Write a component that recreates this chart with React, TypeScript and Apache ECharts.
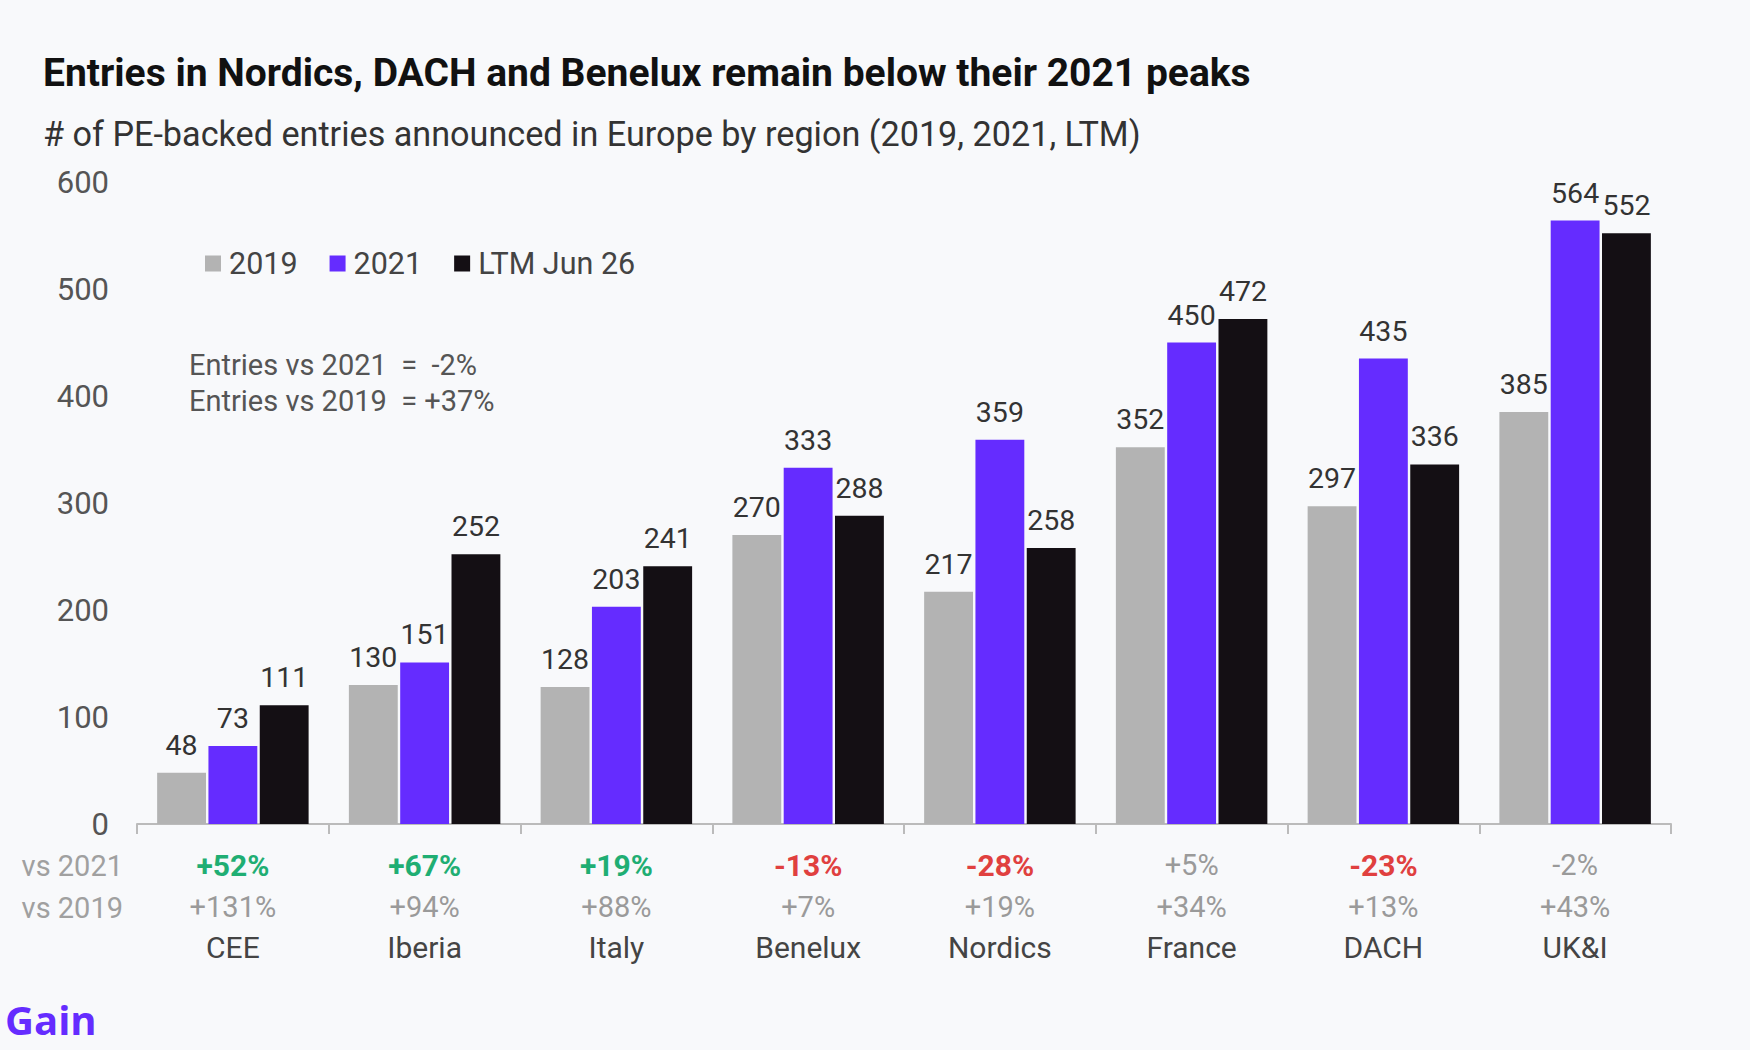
import React, { useEffect, useRef } from "react";
import * as echarts from "echarts";

const categories = ["CEE", "Iberia", "Italy", "Benelux", "Nordics", "France", "DACH", "UK&I"];
const values2019 = [48, 130, 128, 270, 217, 352, 297, 385];
const values2021 = [73, 151, 203, 333, 359, 450, 435, 564];
const valuesLTM = [111, 252, 241, 288, 258, 472, 336, 552];
const vs2021 = ["+52%", "+67%", "+19%", "-13%", "-28%", "+5%", "-23%", "-2%"];
const vs2021Style = ["g", "g", "g", "r", "r", "n", "r", "n"];
const vs2019 = ["+131%", "+94%", "+88%", "+7%", "+19%", "+34%", "+13%", "+43%"];
const seriesNames = ["2019", "2021", "LTM Jun 26"];
const yTicks = { min: 0, max: 600, interval: 100 };

const FONT = "Roboto, 'Noto Sans', sans-serif";
const C_GRAY = "#b3b3b3";
const C_PURPLE = "#652cff";
const C_BLACK = "#140f14";

export default function App() {
  const ref = useRef<HTMLDivElement>(null);
  useEffect(() => {
    if (!ref.current) return;
    const chart = echarts.init(ref.current, null, { renderer: "svg" });
    const labelCfg = {
      show: true,
      position: "top",
      distance: 13,
      color: "#333",
      fontSize: 28.5,
      fontFamily: FONT,
    };
    const mk = (name: string, data: number[], color: string) => ({
      name,
      type: "bar",
      data,
      barGap: "5%",
      barCategoryGap: "21%",
      itemStyle: { color },
      label: labelCfg,
    });
    chart.setOption({
      animation: false,
      backgroundColor: "#f8f9fb",
      textStyle: { fontFamily: FONT },
      title: [
        {
          text: "Entries in Nordics, DACH and Benelux remain below their 2021 peaks",
          left: 38,
          top: 48,
          textStyle: { fontSize: 39, fontWeight: "bold", color: "#111", fontFamily: FONT },
        },
        {
          text: "# of PE-backed entries announced in Europe by region (2019, 2021, LTM)",
          left: 38,
          top: 112,
          textStyle: { fontSize: 34.2, fontWeight: "normal", color: "#333", fontFamily: FONT },
        },
      ],
      legend: {
        left: 200,
        top: 243,
        icon: "rect",
        itemWidth: 16,
        itemHeight: 16,
        itemGap: 32,
        textStyle: { fontSize: 30.5, color: "#444", fontFamily: FONT, padding: [0, 0, 0, 3] },
        data: seriesNames,
      },
      grid: { left: 137, right: 79, top: 182, bottom: 226, containLabel: false },
      xAxis: {
        type: "category",
        data: categories,
        boundaryGap: true,
        axisLine: { show: true, lineStyle: { color: "#bbbbbb", width: 2 } },
        axisTick: { show: true, length: 10, lineStyle: { color: "#bbbbbb", width: 2 } },
        axisLabel: {
          margin: 20,
          interval: 0,
          formatter: (_v: string, i: number) =>
            `{${vs2021Style[i]}|${vs2021[i]}}\n{n2|${vs2019[i]}}\n{c|${categories[i]}}`,
          rich: {
            g: { fontSize: 30, fontWeight: "bold", color: "#1fae73", lineHeight: 42, fontFamily: FONT },
            r: { fontSize: 30, fontWeight: "bold", color: "#e0403f", lineHeight: 42, fontFamily: FONT },
            n: { fontSize: 29, color: "#9a9a9a", lineHeight: 42, fontFamily: FONT },
            n2: { fontSize: 29, color: "#9a9a9a", lineHeight: 42, fontFamily: FONT },
            c: { fontSize: 30, color: "#444", lineHeight: 38, fontFamily: FONT },
          },
        },
      },
      yAxis: {
        type: "value",
        min: yTicks.min,
        max: yTicks.max,
        interval: yTicks.interval,
        axisLine: { show: false },
        axisTick: { show: false },
        splitLine: { show: false },
        axisLabel: { fontSize: 31, color: "#555", margin: 28, fontFamily: FONT },
      },
      graphic: [
        {
          type: "text",
          left: 189,
          top: 347,
          style: {
            text: "Entries vs 2021  =  -2%\nEntries vs 2019  = +37%",
            fontSize: 29,
            lineHeight: 36,
            fill: "#555",
            fontFamily: FONT,
          },
        },
        {
          type: "text",
          x: 123,
          y: 866,
          style: { text: "vs 2021", fontSize: 29, fill: "#a0a0a0", align: "right", verticalAlign: "middle", fontFamily: FONT },
        },
        {
          type: "text",
          x: 123,
          y: 908,
          style: { text: "vs 2019", fontSize: 29, fill: "#a0a0a0", align: "right", verticalAlign: "middle", fontFamily: FONT },
        },
        {
          type: "text",
          x: 5,
          y: 1019,
          style: {
            text: "Gain",
            fontSize: 40,
            lineHeight: 42,
            fontWeight: "bold",
            fill: C_PURPLE,
            verticalAlign: "middle",
            fontFamily: "'Open Sans', sans-serif",
          },
        },
      ],
      series: [mk(seriesNames[0], values2019, C_GRAY), mk(seriesNames[1], values2021, C_PURPLE), mk(seriesNames[2], valuesLTM, C_BLACK)],
    });
    return () => chart.dispose();
  }, []);
  return <div ref={ref} style={{ position: "fixed", left: 0, top: 0, width: 1750, height: 1050 }} />;
}
